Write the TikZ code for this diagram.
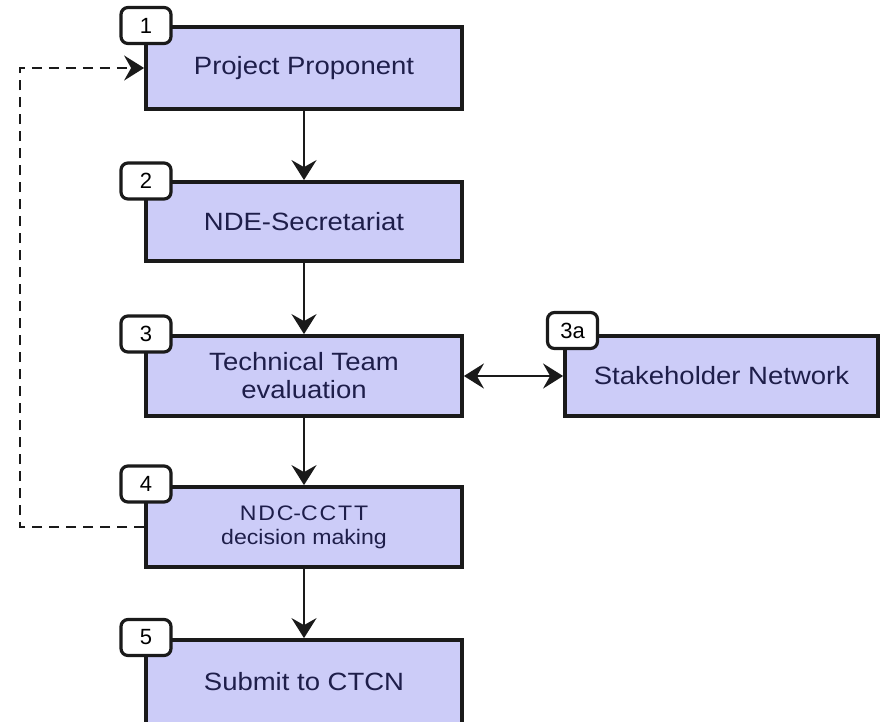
\documentclass[tikz,border=0pt]{standalone}
\usepackage{fontspec}
\setmainfont{Liberation Sans}
\newfontfamily\boxfont[FakeStretch=1.1]{Liberation Sans}
\usetikzlibrary{arrows.meta}
\definecolor{boxfill}{HTML}{CCCCF8}
\definecolor{boxtext}{HTML}{1E1E4A}
\definecolor{edge}{HTML}{1A1A1A}
\tikzset{tip/.tip={Stealth[length=20pt,width=25pt,inset=7pt]}}
\newcommand{\lsp}{\kern1.8pt}
\begin{document}
\begin{tikzpicture}[x=1pt,y=-1pt,
  stepbox/.style={draw=edge, line width=3.8pt, fill=boxfill, text=boxtext,
    minimum width=316pt, inner sep=0pt, align=center,
    font=\boxfont\fontsize{25}{28}\selectfont},
  badge/.style={draw=edge, line width=3.2pt, fill=white, rounded corners=7pt,
    minimum width=50pt, minimum height=36pt, inner sep=0pt,
    font=\fontsize{22}{24}\selectfont},
  flow/.style={line width=2.4pt, draw=edge, -tip},
  back/.style={line width=1.8pt, draw=edge, dash pattern=on 10pt off 7pt, -tip}]
\useasboundingbox (0,0) rectangle (882,721);
% boxes
\node[stepbox, minimum height=82pt] (b1) at (304,68) {\raisebox{-3pt}{Project Proponent}};
\node[stepbox, minimum height=79pt] (b2) at (304,221.5) {NDE-Secretariat};
\node[stepbox, minimum height=80pt] (b3) at (304,376) {Technical Team\\evaluation};
\node[stepbox, minimum height=80pt, minimum width=313pt] (b3a) at (721.5,376) {Stakeholder Network};
\node[stepbox, minimum height=80pt, font=\boxfont\fontsize{21}{24}\selectfont] (b4) at (304,527) {N\lsp D\lsp C-C\lsp C\lsp T\lsp T\\decision making};
\node[stepbox, minimum height=86pt] (b5) at (304,683) {\raisebox{4pt}{Submit to CTCN}};
% badges
\node[badge] (n1) at (146,25.5) {1};
\node[badge] (n2) at (146,181) {2};
\node[badge] (n3) at (146,334) {3};
\node[badge] (n3a) at (572.5,330.5) {3a};
\node[badge] (n4) at (146,484) {4};
\node[badge] (n5) at (146,637.5) {5};
% connectors
\draw[flow] (b1) -- (b2);
\draw[flow] (b2) -- (b3);
\draw[flow] (b3) -- (b4);
\draw[flow] (b4) -- (b5);
\draw[flow, tip-tip] (b3) -- (b3a);
\coordinate (c1) at (20,527);
\coordinate (c2) at (20,68);
\draw[back] (b4.west) -- (c1) -- (c2) -- (b1.west);
\end{tikzpicture}
\end{document}
